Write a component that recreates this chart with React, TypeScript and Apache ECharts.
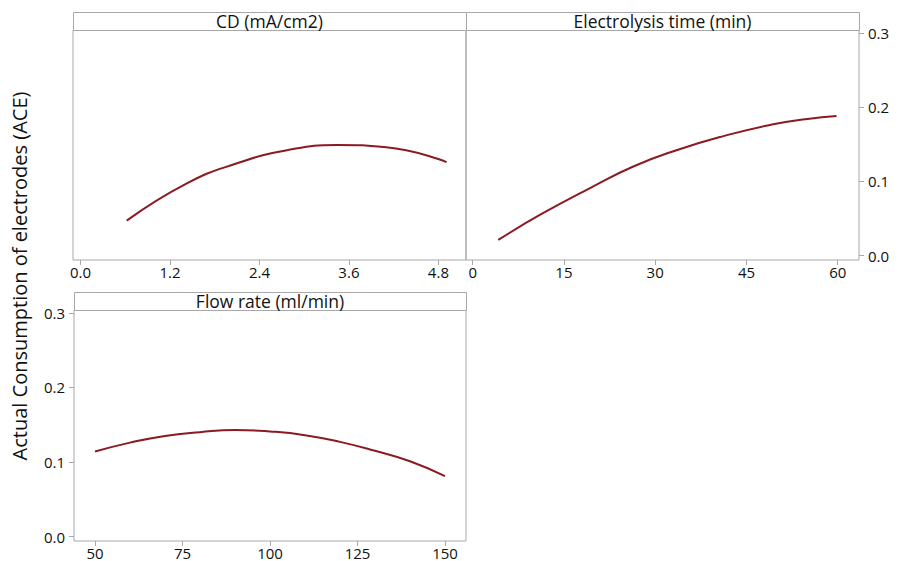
import React, { useEffect, useRef } from "react";
import * as echarts from "echarts";

const cdX = [0.62, 1.42, 2.09, 2.77, 3.44, 4.1, 4.91];
const cdY = [0.047, 0.097, 0.124, 0.142, 0.149, 0.146, 0.126];

const timeX = [4.2, 11.1, 19.3, 26.4, 33.5, 41.2, 49.4, 55, 59.8];
const timeY = [0.021, 0.055, 0.091, 0.12, 0.142, 0.161, 0.177, 0.184, 0.188];

const flowX = [50, 60, 70, 80, 90, 100, 110, 120, 130, 140, 150];
const flowY = [0.114, 0.126, 0.135, 0.14, 0.143, 0.141, 0.136, 0.127, 0.115, 0.101, 0.081];

const cdTicks = [0, 1.2, 2.4, 3.6, 4.8];
const timeTicks = [0, 15, 30, 45, 60];
const flowTicks = [50, 75, 100, 125, 150];
const yTicks = [0, 0.1, 0.2, 0.3];

const panelTitles = ["CD (mA/cm2)", "Electrolysis time (min)", "Flow rate (ml/min)"];
const yTitle = "Actual Consumption of electrodes (ACE)";

const FONT = "Open Sans";
const GREY = "#a8a8a8";
const LINE = "#8b1a22";

export default function App() {
  const ref = useRef<HTMLDivElement>(null);
  useEffect(() => {
    if (!ref.current) return;
    const chart = echarts.init(ref.current, undefined, { renderer: "svg" });
    const grids = [
      { left: 73, top: 30, width: 393, height: 230 },
      { left: 466, top: 30, width: 393, height: 230 },
      { left: 74, top: 310, width: 392, height: 231 },
    ];
    const xDefs = [
      { min: -0.1, max: 5.17, ticks: cdTicks, fmt: (v: number) => v.toFixed(1) },
      { min: -1.1, max: 63.5, ticks: timeTicks, fmt: (v: number) => String(v) },
      { min: 44, max: 156, ticks: flowTicks, fmt: (v: number) => String(v) },
    ];
    const tickStyle = { lineStyle: { color: GREY, width: 1 } };
    const labelStyle = { color: "#111", fontSize: 15, fontFamily: FONT };
    const option: any = {
      animation: false,
      backgroundColor: "#ffffff",
      textStyle: { fontFamily: FONT },
      grid: grids.map((g) => ({ ...g, show: true, borderColor: GREY, borderWidth: 1, backgroundColor: "transparent" })),
      xAxis: xDefs.map((d, i) => ({
        type: "value",
        gridIndex: i,
        min: d.min,
        max: d.max,
        position: "bottom",
        axisLine: { show: false, onZero: false },
        splitLine: { show: false },
        axisTick: { show: true, length: 5, customValues: d.ticks, ...tickStyle },
        axisLabel: {
          customValues: d.ticks,
          formatter: d.fmt,
          margin: 4,
          ...labelStyle,
        },
      })),
      yAxis: [0, 1, 2].map((i) => ({
        type: "value",
        gridIndex: i,
        min: -0.006,
        max: 0.304,
        position: i === 1 ? "right" : "left",
        axisLine: { show: false, onZero: false },
        splitLine: { show: false },
        axisTick: { show: i !== 0, length: 5, customValues: yTicks, ...tickStyle },
        axisLabel: {
          show: i !== 0,
          customValues: yTicks,
          formatter: (v: number) => v.toFixed(1),
          margin: 9,
          ...labelStyle,
        },
      })),
      series: [
        [cdX, cdY],
        [timeX, timeY],
        [flowX, flowY],
      ].map(([xs, ys], i) => ({
        type: "line",
        xAxisIndex: i,
        yAxisIndex: i,
        smooth: 0.5,
        symbol: "none",
        lineStyle: { color: LINE, width: 2 },
        data: xs.map((x, k) => [x, ys[k]]),
      })),
      graphic: [
        ...[
          { x: 73, y: 12, w: 393, h: 18 },
          { x: 466, y: 12, w: 393, h: 18 },
          { x: 74, y: 292, w: 392, h: 18 },
        ].map((r, i) => ({
          type: "group",
          children: [
            {
              type: "rect",
              shape: { x: r.x + 0.5, y: r.y + 0.5, width: r.w, height: r.h },
              style: { fill: "#fff", stroke: GREY, lineWidth: 1 },
            },
            {
              type: "text",
              x: r.x + r.w / 2,
              y: r.y + r.h / 2,
              style: {
                text: panelTitles[i],
                fill: "#111",
                font: `17.5px "${FONT}"`,
                align: "center",
                verticalAlign: "middle",
              },
            },
          ],
        })),
        {
          type: "text",
          x: 19,
          y: 276,
          rotation: Math.PI / 2,
          style: {
            text: yTitle,
            fill: "#111",
            font: `20px "${FONT}"`,
            align: "center",
            verticalAlign: "middle",
          },
        },
      ],
    };
    chart.setOption(option);
    return () => chart.dispose();
  }, []);
  return (
    <div
      ref={ref}
      style={{ position: "fixed", left: 0, top: 0, width: 903, height: 561 }}
    />
  );
}
